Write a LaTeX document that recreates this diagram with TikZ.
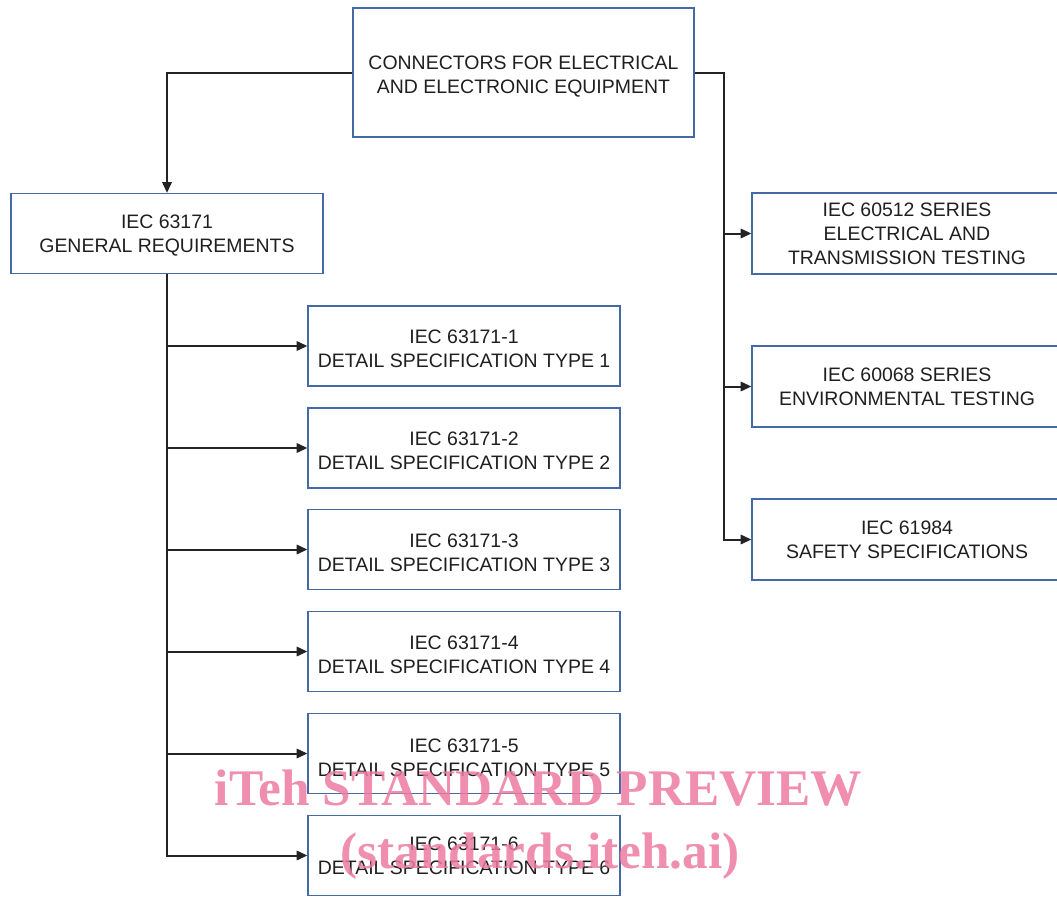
\documentclass[tikz,border=0pt]{standalone}
\usepackage{fontspec}
\setmainfont{Liberation Sans}
\newfontfamily\wmfont{Liberation Serif}
\usetikzlibrary{arrows.meta,positioning,calc}
\definecolor{boxblue}{RGB}{68,106,166}
\definecolor{linkgray}{RGB}{35,35,35}
\definecolor{wmpink}{RGB}{236,122,160}
% invisible strut, pushes a box text down a little
\newcommand\tpad[1]{\rule{0pt}{#1}}

\begin{document}
\begin{tikzpicture}[x=0.75pt,y=-0.75pt,
box/.style={draw=boxblue,line width=0.9pt,align=center,inner sep=0pt,text=black!88,font=\fontsize{14.6}{18}\selectfont},
spec/.style={box,minimum width=234pt,minimum height=60pt},
series/.style={box,minimum width=232.5pt,minimum height=60.75pt},
link/.style={draw=linkgray,line width=1.5pt,-{Triangle[length=8pt,width=7pt]}},
wm/.style={text=wmpink,text opacity=0.85,font=\wmfont\bfseries\fontsize{38.5}{44}\selectfont,inner sep=0pt,anchor=base}]
\useasboundingbox (0,0) rectangle (1057,897);
% main box and the two branches
\node[box,minimum width=255.75pt,minimum height=96.75pt] (top) at (523.5,72.5) {\tpad{16.4pt}CONNECTORS FOR ELECTRICAL\\AND ELECTRONIC EQUIPMENT};
\node[spec] (gen) at (167,233.5) {\tpad{13.4pt}IEC 63171\\GENERAL REQUIREMENTS};
% detail specifications
\node[spec] (d1) at (464,346) {\tpad{15pt}IEC 63171-1\\DETAIL SPECIFICATION TYPE 1};
\node[spec] (d2) at (464,448) {\tpad{14pt}IEC 63171-2\\DETAIL SPECIFICATION TYPE 2};
\node[spec] (d3) at (464,549.5) {\tpad{15pt}IEC 63171-3\\DETAIL SPECIFICATION TYPE 3};
\node[spec] (d4) at (464,651.5) {\tpad{15pt}IEC 63171-4\\DETAIL SPECIFICATION TYPE 4};
\node[spec] (d5) at (464,753.5) {\tpad{16pt}IEC 63171-5\\DETAIL SPECIFICATION TYPE 5};
\node[spec] (d6) at (464,855.5) {IEC 63171-6\\DETAIL SPECIFICATION TYPE 6};
% test series
\node[series] (r1) at (907,233.5) {IEC 60512 SERIES\\ELECTRICAL AND\\TRANSMISSION TESTING};
\node[series] (r2) at (907,386.5) {IEC 60068 SERIES\\ENVIRONMENTAL TESTING};
\node[series] (r3) at (907,539.5) {IEC 61984\\SAFETY SPECIFICATIONS};
\coordinate (rj) at (724,539.5);
\draw[link] (top.west) -| (gen.north);
\draw[link] (gen.south) |- (d6.west);
\draw[link] (top.east) -| (rj) -- (r3.west);
\path
(gen.south |- d1.west) edge[link] (d1.west)
(gen.south |- d2.west) edge[link] (d2.west)
(gen.south |- d3.west) edge[link] (d3.west)
(gen.south |- d4.west) edge[link] (d4.west)
(gen.south |- d5.west) edge[link] (d5.west)
(rj |- r1.west) edge[link] (r1.west)
(rj |- r2.west) edge[link] (r2.west)
;
% watermark
\node[wm] (wm1) at (538.5,805) {iTeh STANDARD PREVIEW};
\node[wm] (wm2) at (540,868) {(standards.iteh.ai)};
\end{tikzpicture}
\end{document}
